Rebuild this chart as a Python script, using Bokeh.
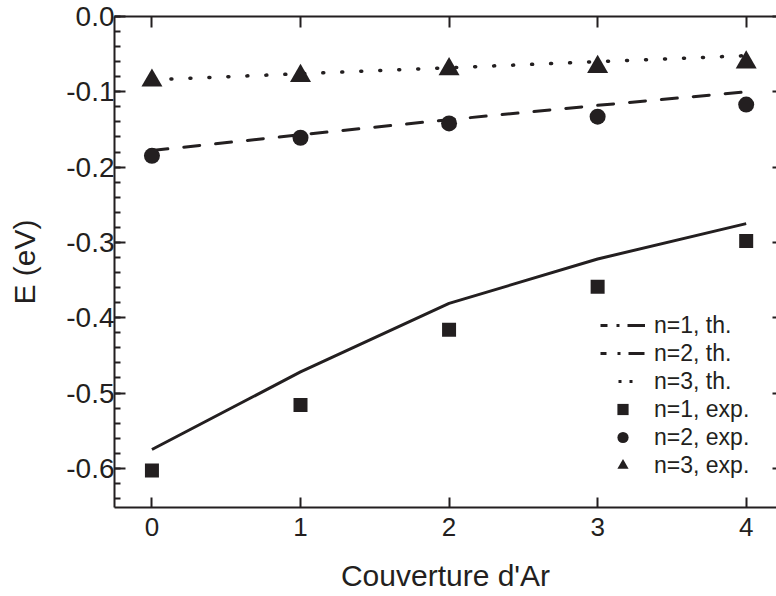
from bokeh.plotting import figure
from bokeh.models import (LinearAxis, FixedTicker, NumeralTickFormatter, Legend,
                          LegendItem, ColumnDataSource, Range1d)
from bokeh.embed import file_html
from bokeh.resources import INLINE
import numpy as np

# ---- data ----
coverage = [0, 1, 2, 3, 4]
th_n1 = [-0.575, -0.472, -0.381, -0.322, -0.275]
th_n2 = [-0.178, -0.157, -0.137, -0.118, -0.100]
th_n3 = [-0.084, -0.076, -0.068, -0.060, -0.052]
exp_n1 = [-0.603, -0.516, -0.416, -0.359, -0.298]
exp_n2 = [-0.185, -0.161, -0.142, -0.133, -0.117]
exp_n3 = [-0.085, -0.079, -0.070, -0.067, -0.061]

x_ticks = [0, 1, 2, 3, 4]
y_ticks = [0.0, -0.1, -0.2, -0.3, -0.4, -0.5, -0.6]
labels_th = ["n=1, th.", "n=2, th.", "n=3, th."]
labels_exp = ["n=1, exp.", "n=2, exp.", "n=3, exp."]

INK = "#231f20"
FONT = "Liberation Sans"

p = figure(width=776, height=596, output_backend="svg", toolbar_location=None,
           x_range=Range1d(-0.252, 4.204), y_range=Range1d(-0.652, 0.0),
           min_border_left=114, min_border_right=0, min_border_top=16,
           min_border_bottom=89, x_axis_label="Couverture d'Ar", y_axis_label="E (eV)")
p.outline_line_color = None
p.grid.visible = False
p.background_fill_color = "white"
p.border_fill_color = "white"

y_minor = [round(v, 3) for v in np.arange(-0.64, 0.001, 0.02)]

for ax in (p.xaxis[0], p.yaxis[0]):
    ax.axis_line_color = INK
    ax.axis_line_width = 2
    ax.major_tick_line_color = INK
    ax.major_tick_line_width = 2
    ax.minor_tick_line_color = INK
    ax.minor_tick_line_width = 2
    ax.major_tick_out = 0
    ax.minor_tick_out = 0
    ax.major_label_text_font = FONT
    ax.major_label_text_color = INK
    ax.axis_label_text_font = FONT
    ax.axis_label_text_font_size = "30px"
    ax.axis_label_text_font_style = "normal"
    ax.axis_label_text_color = INK

p.xaxis[0].ticker = FixedTicker(ticks=x_ticks)
p.xaxis[0].major_label_text_font_size = "26px"
p.xaxis[0].major_tick_in = 10
p.xaxis[0].minor_tick_in = 0
p.xaxis[0].major_label_standoff = 10
p.xaxis[0].axis_label_standoff = 20

p.yaxis[0].ticker = FixedTicker(ticks=y_ticks, minor_ticks=y_minor)
p.yaxis[0].formatter = NumeralTickFormatter(format="0.0")
p.yaxis[0].major_label_text_font_size = "28px"
p.yaxis[0].major_tick_in = 11
p.yaxis[0].minor_tick_in = 6
p.yaxis[0].major_label_standoff = 0
p.yaxis[0].axis_label_standoff = 22

top = LinearAxis(ticker=FixedTicker(ticks=x_ticks), axis_line_color=INK, axis_line_width=2,
                 major_tick_in=11, major_tick_out=0, minor_tick_in=0, minor_tick_out=0,
                 major_tick_line_color=INK, major_tick_line_width=2,
                 major_label_text_font_size="0px", major_label_text_color=None,
                 major_label_standoff=0)
p.add_layout(top, "above")
right = LinearAxis(ticker=FixedTicker(ticks=y_ticks), axis_line_color=None,
                   major_tick_in=4, major_tick_out=0, minor_tick_in=0, minor_tick_out=0,
                   major_tick_line_color=INK, major_tick_line_width=2,
                   major_label_text_font_size="0px", major_label_text_color=None,
                   major_label_standoff=0)
p.add_layout(right, "right")

src = ColumnDataSource(dict(x=coverage, th1=th_n1, th2=th_n2, th3=th_n3,
                            e1=exp_n1, e2=exp_n2, e3=exp_n3))

p.line("x", "th1", source=src, line_color=INK, line_width=3)
p.line("x", "th2", source=src, line_color=INK, line_width=3, line_dash="16 16",
       line_cap="round")
p.line("x", "th3", source=src, line_color=INK, line_width=3.5, line_dash="1 18",
       line_cap="round")

r_e1 = p.scatter("x", "e1", source=src, marker="square", size=14, fill_color=INK, line_color=None)
r_e2 = p.scatter("x", "e2", source=src, marker="circle", size=16, fill_color=INK, line_color=None)
r_e3 = p.scatter("x", "e3", source=src, marker="triangle", size=21, fill_color=INK, line_color=None)

# legend samples, styled as they appear in the reference legend (no plotted points)
blank = ColumnDataSource(dict(x=[np.nan], y=[np.nan]))
l1 = p.line("x", "y", source=blank, line_color=INK, line_width=3, line_dash="7 9 3 8 18 20")
l2 = p.line("x", "y", source=blank, line_color=INK, line_width=3, line_dash="6 11 3 8 16 20")
l3 = p.line("x", "y", source=blank, line_color=INK, line_width=3, line_dash="0 18 3 8 3 30")

items = [LegendItem(label=labels_th[0], renderers=[l1]),
         LegendItem(label=labels_th[1], renderers=[l2]),
         LegendItem(label=labels_th[2], renderers=[l3]),
         LegendItem(label=labels_exp[0], renderers=[r_e1]),
         LegendItem(label=labels_exp[1], renderers=[r_e2]),
         LegendItem(label=labels_exp[2], renderers=[r_e3])]
leg = Legend(items=items, location=(486, 28), border_line_color=None,
             background_fill_alpha=0, padding=0, margin=0, spacing=0,
             glyph_width=45, glyph_height=28, label_height=28, label_standoff=9,
             label_text_font=FONT, label_text_font_size="23px", label_text_color=INK)
p.add_layout(leg, "center")

open("out.html", "w").write(file_html(p, INLINE))
